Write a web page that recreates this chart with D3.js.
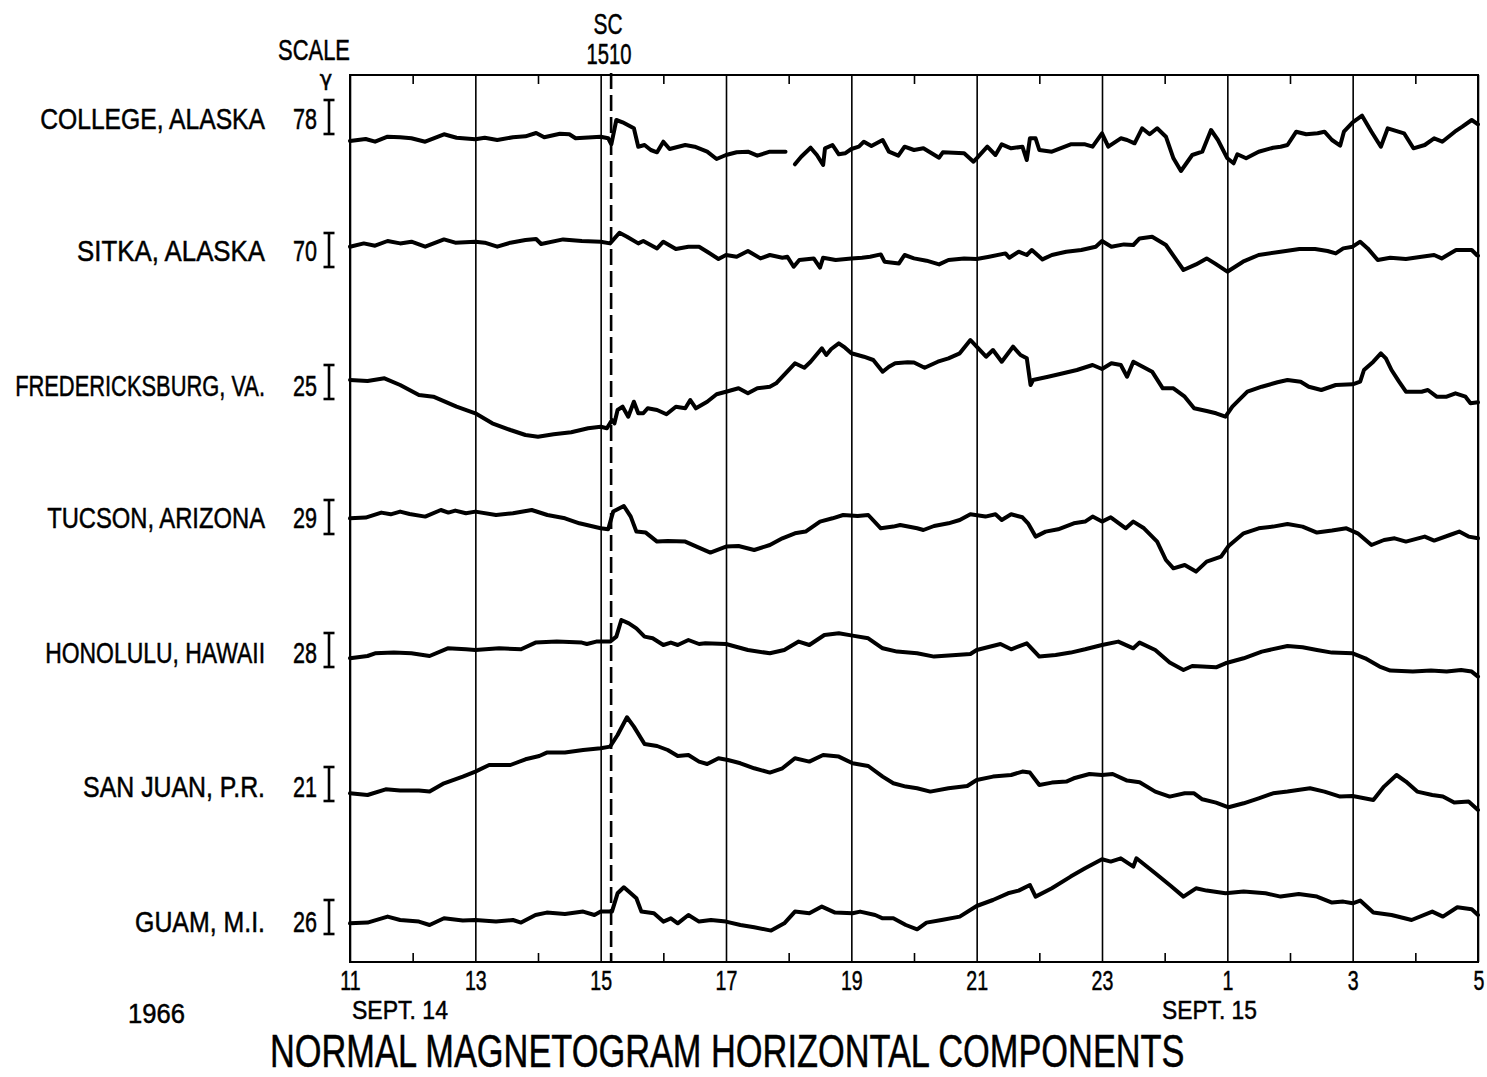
<!DOCTYPE html>
<html>
<head>
<meta charset="utf-8">
<script src="https://cdn.jsdelivr.net/npm/d3@7"></script>
<style>
  html, body { margin: 0; padding: 0; background: #fff; }
  svg { display: block; }
  text { font-family: "Liberation Sans", Arial, sans-serif; fill: #000; stroke: #000; stroke-width: 0.5; }
</style>
</head>
<body>
<svg id="chart" width="1487" height="1077"></svg>
<script>
// ---------------- DATA ----------------
const stations = ["COLLEGE, ALASKA", "SITKA, ALASKA", "FREDERICKSBURG, VA.", "TUCSON, ARIZONA",
                  "HONOLULU, HAWAII", "SAN JUAN, P.R.", "GUAM, M.I."];
const scaleGamma = [78, 70, 25, 29, 28, 21, 26];          // scale bar value (gamma)
const majorHours = [11, 13, 15, 17, 19, 21, 23, 25, 27, 29]; // hours from 00 UT Sept 14
const tickLabels = ["11", "13", "15", "17", "19", "21", "23", "1", "3", "5"];
const minorHours = [12, 14, 16, 18, 20, 22, 24, 26, 28];
const scHour = 15 + 10 / 60;   // sudden commencement 1510
const scLabel = ["SC", "1510"];
const dateLabels = ["SEPT. 14", "SEPT. 15"];
const yearLabel = "1966";
const title = "NORMAL MAGNETOGRAM HORIZONTAL COMPONENTS";

// trace deflection readings [hour, deflection]; deflection up = increase in H (chart units)
const college = [[11,0],[11.25,2],[11.4,-0.7],[11.6,4.3],[11.8,3.7],[11.98,2.7],[12.2,-0.7],[12.5,6.7],[12.7,3.3],
 [13,1.7],[13.15,3.3],[13.35,1],[13.6,3.7],[13.8,4.7],[13.97,8],[14.1,3.7],[14.35,7.3],[14.5,6.7],[14.6,2.7],
 [15,4.3],[15.12,2.7],[15.17,-3.3],[15.25,21],[15.35,18.7],[15.53,12.7],[15.6,-5.7],[15.7,-4],[15.8,-9],[15.9,-11.3],
 [16,-0.7],[16.1,-8],[16.35,-4],[16.5,-5.7],[16.7,-10.7],[16.85,-18],[17,-14],[17.17,-11.3],[17.35,-10.7],[17.5,-14.7],
 [17.7,-10.7],[17.95,-10.7],[18.02,null],[18.1,-23.3],[18.2,-15.7],[18.35,-6.7],[18.45,-14],[18.55,-24],[18.58,-7.3],
 [18.7,-4],[18.8,-13.3],[18.9,-12.3],[19,-8],[19.12,-5.7],[19.2,-0.7],[19.32,-5],[19.5,1],[19.6,-10.7],[19.75,-14.7],
 [19.85,-5.7],[20,-9],[20.15,-7.3],[20.4,-16.7],[20.46,-11.3],[20.8,-12.3],[20.95,-20.7],[21,-17.3],[21.17,-5.7],
 [21.3,-14],[21.4,-3.3],[21.55,-7.3],[21.73,-5.7],[21.8,-19],[21.85,2.7],[21.94,2.7],[22,-9],[22.2,-10.7],[22.5,-3.3],
 [22.73,-3.3],[22.85,-5.7],[23,7.7],[23.1,-5.7],[23.3,2.7],[23.4,1],[23.52,-2.3],[23.64,12.7],[23.76,6.7],[23.88,12.7],
 [24.02,4.3],[24.14,-17.3],[24.26,-30],[24.44,-14],[24.6,-10.7],[24.74,11],[24.85,1],[25,-17.3],[25.1,-22.3],
 [25.16,-13.3],[25.3,-17.3],[25.5,-10.7],[25.73,-6.7],[25.85,-5.7],[25.96,-4],[26.1,9.3],[26.26,6.7],[26.44,7.7],
 [26.55,9.3],[26.67,1],[26.8,-4.7],[26.86,9.3],[27,18.7],[27.15,25.3],[27.3,9.3],[27.45,-5.7],[27.56,12.7],[27.82,7.7],
 [27.97,-7.3],[28.15,-4],[28.3,2.7],[28.43,-0.7],[28.63,9.3],[28.75,14.3],[28.9,21],[29,16.7]];

const sitka = [[11,0],[11.22,3.3],[11.4,1],[11.6,5.7],[11.8,3.3],[11.98,5],[12.2,0],[12.5,7.3],[12.68,4],[13,5],
 [13.15,4],[13.35,0],[13.56,4],[13.8,6.7],[13.97,7.7],[14.05,2.7],[14.4,7.3],[14.7,5.7],[15,5],[15.15,3.3],[15.3,14],
 [15.42,10],[15.6,3.3],[15.68,5.7],[15.9,-1.7],[16,5],[16.2,-2.3],[16.4,0],[16.57,0],[16.7,-5],[16.88,-12.3],[17,-8.3],
 [17.17,-10],[17.35,-4.3],[17.55,-11.7],[17.7,-8.3],[17.9,-11],[17.98,-10],[18.08,-20],[18.17,-13.3],[18.4,-11.7],
 [18.5,-21],[18.55,-11],[18.75,-13.3],[19,-11.7],[19.17,-11],[19.3,-10],[19.47,-7.7],[19.53,-15],[19.76,-16.7],
 [19.85,-8.3],[20,-11.7],[20.2,-14],[20.4,-17.7],[20.55,-13.3],[20.8,-11.7],[21,-12.3],[21.2,-10],[21.46,-6.7],
 [21.52,-11],[21.67,-5],[21.8,-8.3],[21.88,-3.3],[22.05,-12.7],[22.2,-8.3],[22.43,-5],[22.67,-3.3],[22.9,0],[23,5.7],
 [23.15,0],[23.35,2.3],[23.5,1.7],[23.6,8.3],[23.8,10],[24.02,1.7],[24.17,-11.7],[24.3,-23.3],[24.5,-17.7],
 [24.67,-11.7],[24.8,-16.7],[25,-25],[25.25,-15],[25.5,-8.3],[25.85,-5],[26.15,-2.3],[26.4,-2.3],[26.6,-4.3],
 [26.73,-6.7],[26.85,-1.7],[27,0],[27.12,5],[27.24,-1.7],[27.4,-13.3],[27.6,-11],[27.85,-12.3],[28.1,-10],[28.3,-8.3],
 [28.42,-11.7],[28.65,-3.3],[28.9,-3.3],[28.98,-8.3],[29,-9]];

const fredericksburg = [[11,0],[11.28,-1],[11.55,1.7],[11.8,-5],[12.1,-15],[12.33,-16.7],[12.7,-26.7],[13,-33.3],
 [13.27,-43.3],[13.56,-50],[13.8,-55],[14,-56.7],[14.25,-54.3],[14.53,-52.3],[14.8,-48.3],[15,-46.7],[15.1,-48.3],
 [15.18,-40],[15.22,-43.3],[15.27,-30],[15.35,-26.7],[15.44,-36.7],[15.53,-21.7],[15.6,-33.3],[15.68,-33.3],
 [15.75,-28.3],[15.9,-30],[16.05,-34.3],[16.2,-26.7],[16.35,-28.3],[16.43,-20],[16.52,-28.3],[16.7,-21.7],
 [16.85,-14.3],[17,-11.7],[17.2,-8.3],[17.35,-13.3],[17.5,-8.3],[17.7,-6.7],[17.8,-3.3],[17.95,6.7],[18.1,16.7],
 [18.25,12.3],[18.35,18.3],[18.53,31.7],[18.6,25],[18.68,31],[18.8,36.7],[18.9,32.3],[19,26.7],[19.2,23.3],[19.35,20],
 [19.5,8.3],[19.6,13.3],[19.7,16.7],[19.9,17.7],[20,17.5],[20.17,12.3],[20.38,18.3],[20.55,21.7],[20.73,26.7],
 [20.9,40],[21,33.3],[21.15,23.3],[21.26,30],[21.4,18.3],[21.58,33.3],[21.7,25],[21.8,21.7],[21.86,-5],[21.9,0],
 [22.14,3.3],[22.38,6.7],[22.6,10],[22.85,15],[23,11],[23.15,16.7],[23.3,15],[23.4,3.3],[23.5,18.3],[23.65,13.3],
 [23.8,8.3],[23.97,-8.3],[24.14,-8.3],[24.32,-16.7],[24.47,-28.3],[24.67,-31],[24.82,-33.3],[24.97,-36.7],
 [25.08,-26.7],[25.32,-11.7],[25.55,-6.7],[25.8,-2.3],[25.96,0],[26.17,-1.7],[26.3,-6.7],[26.5,-10],[26.73,-5],
 [27,-4.3],[27.12,-1.7],[27.18,10],[27.33,18.3],[27.45,26.7],[27.53,21.7],[27.62,10],[27.74,-1.7],[27.85,-11.7],
 [28.1,-11.7],[28.2,-10],[28.34,-16.7],[28.5,-16.7],[28.64,-13.3],[28.8,-16.7],[28.88,-23.3],[29,-22.3]];

const tucson = [[11,0],[11.25,0.7],[11.5,5.7],[11.65,4],[11.8,6.7],[11.95,4.3],[12.2,1.7],[12.45,8.3],[12.57,5.7],
 [12.68,7.7],[12.85,5],[13,6.7],[13.33,3.3],[13.6,5],[13.9,8.3],[14.15,3.3],[14.43,0],[14.66,-5],[15,-10],[15.12,-11],
 [15.2,6.7],[15.27,9],[15.37,12.3],[15.48,1.7],[15.57,-13.3],[15.72,-14.3],[15.9,-23.3],[16.07,-22.7],[16.35,-23.3],
 [16.53,-28.3],[16.75,-34.3],[17,-28.3],[17.2,-27.7],[17.45,-31.7],[17.7,-26.7],[17.9,-20],[18.1,-15],[18.27,-13.3],
 [18.5,-3.3],[18.7,0],[18.87,3.3],[19.1,2.3],[19.27,3.3],[19.47,-10],[19.67,-8.3],[19.78,-6.7],[20.05,-10],
 [20.15,-11.7],[20.32,-7.7],[20.55,-5],[20.73,-1.7],[20.9,4],[21.14,1.7],[21.3,4],[21.4,-1.7],[21.55,4],[21.73,1],
 [21.82,-5],[21.94,-18.3],[22.1,-13.3],[22.3,-11],[22.55,-5],[22.73,-3.3],[22.85,1.7],[23,-3.3],[23.14,1],[23.38,-10],
 [23.5,-3.3],[23.67,-10],[23.88,-23.3],[24.02,-41.7],[24.14,-50],[24.32,-46.7],[24.5,-53.3],[24.67,-43.3],
 [24.9,-38.3],[25.02,-27.7],[25.26,-15],[25.5,-10],[25.73,-8.3],[25.96,-5.7],[26.2,-8.3],[26.43,-14.3],[26.67,-12.3],
 [26.9,-10],[27.08,-15],[27.3,-26.7],[27.5,-21.7],[27.67,-20],[27.85,-23.3],[28.15,-18.3],[28.3,-22.3],[28.55,-16.7],
 [28.7,-13.3],[28.85,-18.3],[29,-20]];

const honolulu = [[11,0],[11.28,2.3],[11.4,5],[11.7,5.7],[11.98,5],[12.27,2.3],[12.56,10],[12.85,9],[13,8.3],
 [13.38,10],[13.73,9],[13.96,15.7],[14.3,16.7],[14.7,15.7],[14.78,14.3],[14.93,16.7],[15.15,16.7],[15.25,21.7],
 [15.33,38.3],[15.45,35],[15.57,30],[15.7,21.7],[15.83,20],[16,13.3],[16.12,15.7],[16.23,13.3],[16.4,18.3],
 [16.57,14.3],[16.67,15],[17,14.3],[17.35,8.3],[17.7,5],[17.93,8.3],[18.16,16.7],[18.33,13.3],[18.57,23.3],[18.8,25],
 [19.02,22.7],[19.27,20],[19.5,10],[19.73,6.7],[20.05,5],[20.32,1.7],[20.67,3.3],[20.9,4.3],[21,8.3],[21.38,14.3],
 [21.55,9],[21.8,15],[22,1.7],[22.26,3.3],[22.5,5.7],[22.73,9],[23,13.3],[23.26,16.7],[23.5,10],[23.6,15.7],
 [23.85,8.3],[24.08,-4.3],[24.3,-11.7],[24.44,-7.7],[24.6,-8.3],[24.82,-9],[24.97,-5],[25.26,0],[25.55,6.7],
 [25.96,12.3],[26.2,11],[26.43,8.3],[26.67,5.7],[27,5],[27.2,0],[27.43,-8.3],[27.6,-12.3],[27.96,-13.3],[28.25,-12.3],
 [28.5,-13.3],[28.73,-11.7],[28.9,-13.3],[29,-18.3]];

const sanJuan = [[11,0],[11.28,-1.7],[11.57,4],[11.8,2.7],[12.1,2.7],[12.27,1.7],[12.5,10],[12.8,16.7],[13,21.7],
 [13.22,28.3],[13.56,28.3],[13.8,34],[14.02,37.3],[14.14,40.7],[14.43,40.7],[14.72,43.3],[15,45],[15.15,46.7],
 [15.27,58.3],[15.42,76],[15.53,66.7],[15.7,49.3],[15.9,47.3],[16.07,43.3],[16.23,37.3],[16.4,38.3],[16.57,31.7],
 [16.7,29.3],[16.88,35],[17.03,33.3],[17.23,30],[17.45,25],[17.7,20.7],[17.9,25],[18.1,35],[18.33,31.7],[18.55,38.3],
 [18.8,36.7],[19.02,30],[19.27,27.3],[19.5,16.7],[19.67,10],[19.87,6.7],[20.05,5],[20.26,1.7],[20.55,5],[20.85,7.3],
 [21,13.3],[21.26,16.7],[21.55,18.3],[21.73,21.7],[21.85,20.7],[22,8.3],[22.2,10.7],[22.43,11.7],[22.55,15],
 [22.8,19.3],[23,18.3],[23.17,19.3],[23.4,12.7],[23.6,11],[23.85,1.7],[24.08,-3.3],[24.32,0],[24.47,0],[24.6,-6],
 [24.82,-9.3],[25.02,-14],[25.26,-10],[25.5,-5],[25.73,0],[25.96,1.7],[26.32,5],[26.55,1.7],[26.8,-3.3],[27,-2.7],
 [27.33,-6.7],[27.5,6.7],[27.7,18.3],[27.85,11.7],[28.03,1.7],[28.27,-1.7],[28.44,-3.3],[28.62,-9.3],[28.85,-8.3],
 [29,-16.7]];

const guam = [[11,0],[11.28,0.7],[11.6,6.7],[11.8,3.3],[12.1,1.7],[12.27,-1.7],[12.5,5],[12.8,2.7],[13,3.3],
 [13.33,1.7],[13.6,3.3],[13.73,0.7],[13.96,8.3],[14.14,10.7],[14.43,9.3],[14.72,11.7],[14.9,8.3],[15,11.7],
 [15.18,11.7],[15.27,30],[15.37,36],[15.48,30],[15.57,25],[15.65,11.7],[15.85,10],[16,1.7],[16.12,5],[16.23,0],
 [16.4,8.3],[16.57,1.7],[16.76,3.3],[17,1.7],[17.23,-1.7],[17.45,-4],[17.72,-7.3],[17.93,0],[18.1,11.7],[18.33,10],
 [18.53,16.7],[18.74,10.7],[19.02,10],[19.14,11.7],[19.38,8.3],[19.5,5],[19.67,5],[19.87,-1.7],[20.05,-6],[20.2,0.7],
 [20.44,3.3],[20.73,6.7],[21,17.3],[21.26,23.3],[21.5,30],[21.67,32.7],[21.85,38.3],[21.94,26.7],[22.2,35],
 [22.5,46.7],[22.73,55],[23,64],[23.14,61.7],[23.3,65],[23.5,56.7],[23.55,65],[23.85,50],[24.08,38.3],[24.3,26.7],
 [24.5,35],[24.67,32.7],[24.97,30],[25.26,31.7],[25.61,30],[25.85,26.7],[26.14,29.3],[26.43,26.7],[26.67,20.7],
 [26.85,21.7],[27,20],[27.12,22.7],[27.33,10.7],[27.62,8.3],[27.94,3.3],[28.27,11.7],[28.44,6.7],[28.67,16],
 [28.9,14],[29,8.3]];

const series = [college, sitka, fredericksburg, tucson, honolulu, sanJuan, guam];

// ---------------- LAYOUT ----------------
const plot = { left: 350, right: 1478, top: 75, bottom: 962 };
const rowZero = [141, 246.7, 380, 518.3, 658.3, 793.3, 923.3]; // pixel level of zero deflection per row
const labelMid = [118, 250, 385, 517, 652, 786, 921];
const labelWidth = [225, 188, 250, 218, 220, 182, 130];
const barMid = [117, 250, 382, 517, 650, 784, 917];
const barLen = 34;   // scale bar length in chart units

const svg = d3.select("#chart");
const x = d3.scaleLinear().domain([11, 29]).range([plot.left, plot.right]);

// text condensed horizontally to a given width by a transform (keeps real bounding boxes)
function label(xp, yp, str, size, anchor, width) {
  const g = svg.append("g").attr("transform", `translate(${xp},${yp})`);
  const t = g.append("text").attr("x", 0).attr("y", 0).attr("font-size", size)
    .attr("text-anchor", anchor).text(str);
  if (width) {
    const natural = t.node().getComputedTextLength();
    g.attr("transform", `translate(${xp},${yp}) scale(${width / natural},1)`);
  }
  return t;
}

// major grid + labels
const axB = d3.axisBottom(x).tickValues(majorHours).tickSize(-(plot.bottom - plot.top)).tickPadding(8)
  .tickFormat((d, i) => tickLabels[i]);
const gB = svg.append("g").attr("transform", `translate(0,${plot.bottom})`).call(axB);
gB.select(".domain").remove();
gB.selectAll(".tick line").attr("stroke", "#000").attr("stroke-width", 1.6);
gB.selectAll(".tick text").attr("font-size", 28).attr("font-family", null).attr("fill", "#000")
  .attr("text-anchor", d => (d === 29 ? "end" : "middle"))
  .attr("transform", d => (d === 29 ? "translate(6,0) scale(0.7,1)" : "scale(0.7,1)"));

// minor ticks, bottom and top
const axMinB = d3.axisBottom(x).tickValues(minorHours).tickSize(-9).tickFormat("");
const gMB = svg.append("g").attr("transform", `translate(0,${plot.bottom})`).call(axMinB);
gMB.select(".domain").remove();
gMB.selectAll(".tick line").attr("stroke", "#000").attr("stroke-width", 1.6);
const axMinT = d3.axisTop(x).tickValues(minorHours).tickSize(-9).tickFormat("");
const gMT = svg.append("g").attr("transform", `translate(0,${plot.top})`).call(axMinT);
gMT.select(".domain").remove();
gMT.selectAll(".tick line").attr("stroke", "#000").attr("stroke-width", 1.6);

// frame
svg.append("rect").attr("x", plot.left).attr("y", plot.top)
  .attr("width", plot.right - plot.left).attr("height", plot.bottom - plot.top)
  .attr("fill", "none").attr("stroke", "#000").attr("stroke-width", 2);

// SC dashed line
svg.append("line").attr("x1", x(scHour)).attr("x2", x(scHour)).attr("y1", plot.top - 2).attr("y2", plot.bottom)
  .attr("stroke", "#000").attr("stroke-width", 2.6).attr("stroke-dasharray", "16,6");

// traces
series.forEach((s, i) => {
  const y = d3.scaleLinear().domain([0, 1]).range([rowZero[i], rowZero[i] - 1]);
  const line = d3.line().defined(d => d[1] !== null).x(d => x(d[0])).y(d => y(d[1]));
  svg.append("path").datum(s).attr("d", line).attr("fill", "none").attr("stroke", "#000")
    .attr("stroke-width", 4).attr("stroke-linejoin", "round").attr("stroke-linecap", "round");
});

// station labels, scale values, scale bars
stations.forEach((name, i) => {
  label(265, labelMid[i] + 10.5, name, 29, "end", labelWidth[i]);
  label(317, labelMid[i] + 10.5, String(scaleGamma[i]), 29, "end", 24);
  const yb = d3.scaleLinear().domain([0, 1]).range([barMid[i] + barLen / 2, barMid[i] + barLen / 2 - 1]);
  const g = svg.append("g").attr("stroke", "#000").attr("stroke-width", 2.6);
  const bx = 329;
  g.append("line").attr("x1", bx).attr("x2", bx).attr("y1", yb(0)).attr("y2", yb(barLen));
  g.append("line").attr("x1", bx - 5.5).attr("x2", bx + 5.5).attr("y1", yb(0)).attr("y2", yb(0));
  g.append("line").attr("x1", bx - 5.5).attr("x2", bx + 5.5).attr("y1", yb(barLen)).attr("y2", yb(barLen));
});

// header texts
label(350, 60, "SCALE", 29, "end", 72);
svg.append("text").attr("x", 326).attr("y", 86).attr("text-anchor", "middle")
  .style("font-family", "'DejaVu Sans', sans-serif").style("font-size", "21px").text("γ");
label(x(scHour) - 3, 34, scLabel[0], 30, "middle", 29);
label(x(scHour) - 2, 64, scLabel[1], 30, "middle", 45);

// date labels
label(352, 1018.5, dateLabels[0], 26, "start", 96);
label(1162, 1018.5, dateLabels[1], 26, "start", 95);
label(128, 1023, yearLabel, 28, "start", 57);

// title
label(270, 1066.5, title, 47, "start", 915);
</script>
</body>
</html>
